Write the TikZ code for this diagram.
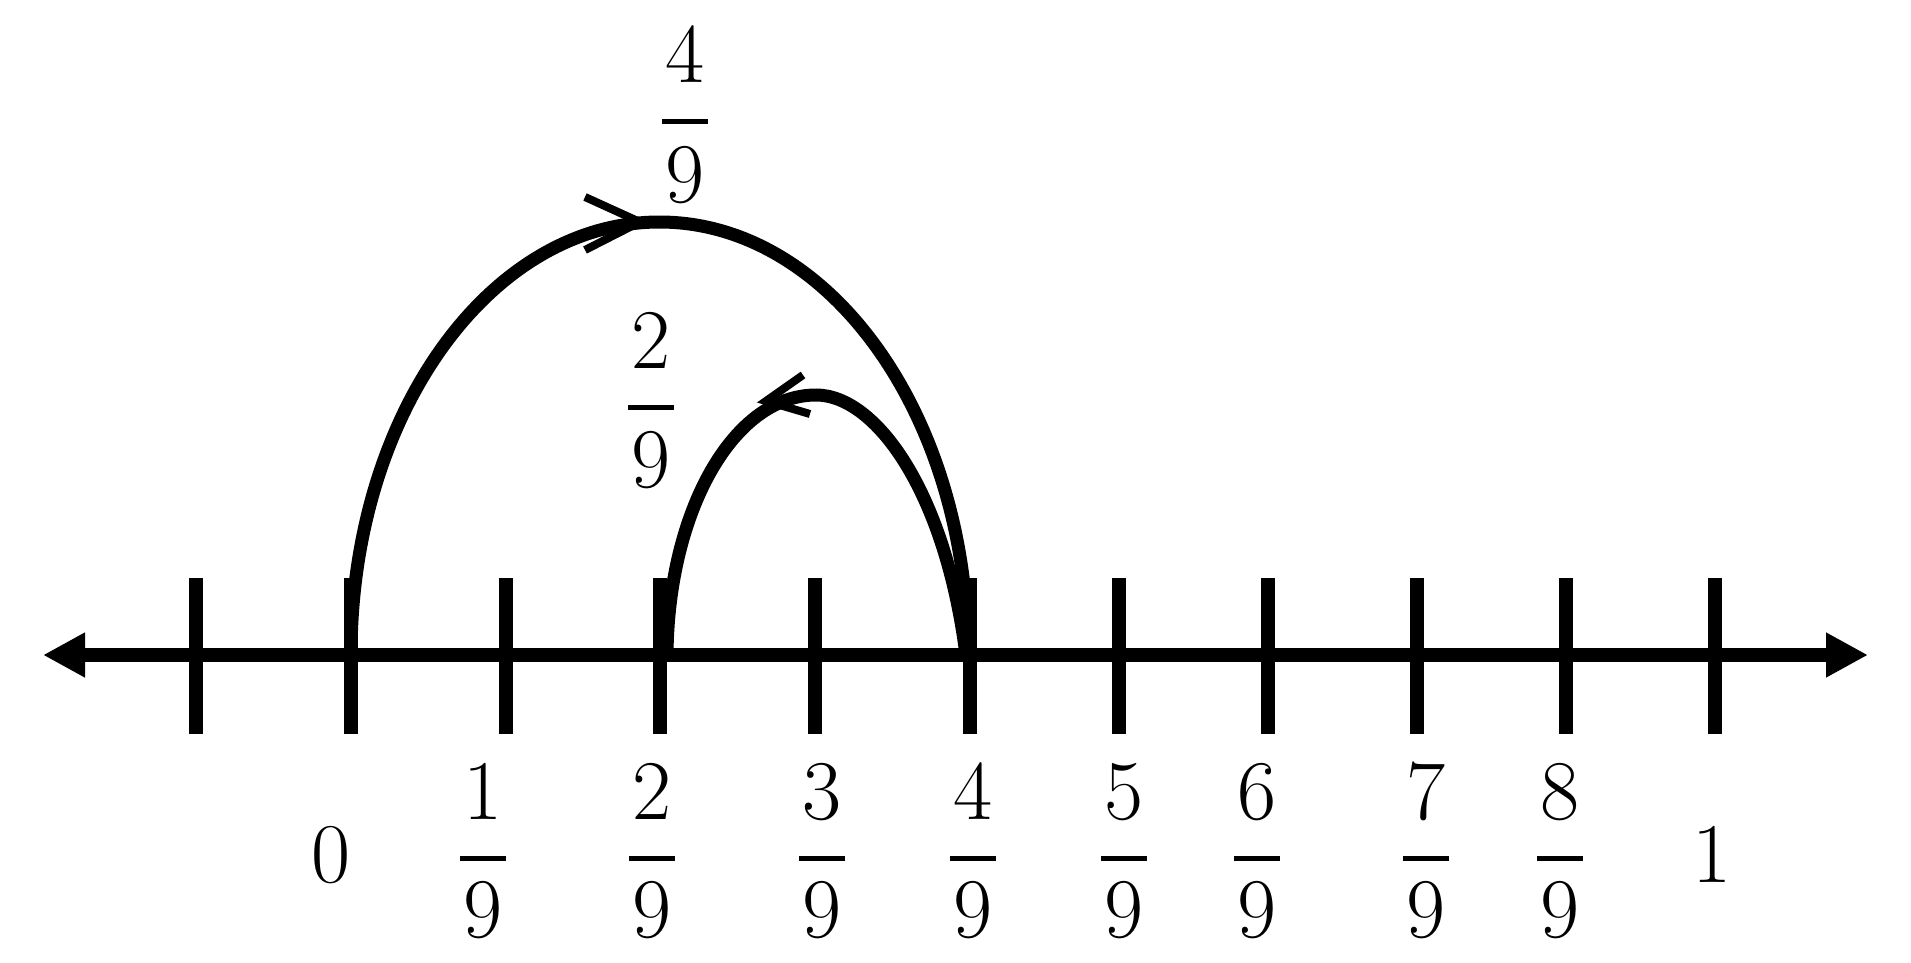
\documentclass[tikz,border=0pt]{standalone}
\usepackage{fontspec}
\usetikzlibrary{arrows.meta}
\begin{document}
\begin{tikzpicture}[x=0.5pt,y=-0.5pt,
  digit/.style={font=\fontsize{42.5}{50}\selectfont, inner sep=0pt, anchor=base},
  fracbar/.style={rectangle, fill=black, minimum width=23pt, minimum height=2.5pt, inner sep=0pt},
  tickmark/.style={rectangle, fill=black, minimum width=7pt, minimum height=78pt, inner sep=0pt},
  axisline/.style={line width=7pt, {Triangle[length=21pt,width=21pt]}-{Triangle[length=21pt,width=21pt]}},
  jump/.style={line width=6.5pt},
  chevron/.style={line width=4pt, line join=miter}]
\useasboundingbox (0,0) rectangle (1911,963);
% axis
\coordinate (la) at (43,655);
\coordinate (ra) at (1868,655);
\draw[axisline] (la) -- (ra);
% ticks
\foreach \x [count=\i from 0] in {196,351,506,660,815,970,1119,1268,1417,1566,1715}
  \node[tickmark] (k\i) at (\x,656) {};
% big jump 0 -> 4/9
\coordinate (b0) at (351,655);
\draw[jump] (b0) arc[start angle=180, end angle=0, x radius=154.25pt, y radius=216.5pt];
\coordinate (bt) at (640,222);
\coordinate (bu) at (585,197);
\coordinate (bl) at (585,250);
\draw[chevron] (bu) -- (bt) -- (bl);
% small jump 4/9 -> 2/9
\coordinate (s0) at (667,655);
\coordinate (stop) at (816,395);
\coordinate (s1) at (966,655);
\draw[jump] (s0) .. controls (668,512) and (733,395) .. (stop) .. controls (875,395) and (945,490) .. (s1);
\coordinate (st) at (766,401);
\coordinate (su) at (803,375);
\coordinate (sl) at (810,414);
\draw[chevron] (su) -- (st) -- (sl);
% bottom labels
\node[digit] (lz) at (331,882) {0};
\node[digit] (lo) at (1712,882) {1};
\foreach \x/\n in {483/1,652/2,822/3,973/4,1124/5,1257/6,1426/7,1560/8}{
  \node[digit] (n\n) at (\x,819) {\n};
  \node[fracbar] (f\n) at (\x,858) {};
  \node[digit] (d\n) at (\x,937) {9};
}
% jump labels
\node[digit] (tn) at (685,83) {4};
\node[fracbar] (tf) at (685,122) {};
\node[digit] (td) at (685,202) {9};
\node[digit] (mn) at (651,368) {2};
\node[fracbar] (mf) at (651,407) {};
\node[digit] (md) at (651,487) {9};
\end{tikzpicture}
\end{document}
